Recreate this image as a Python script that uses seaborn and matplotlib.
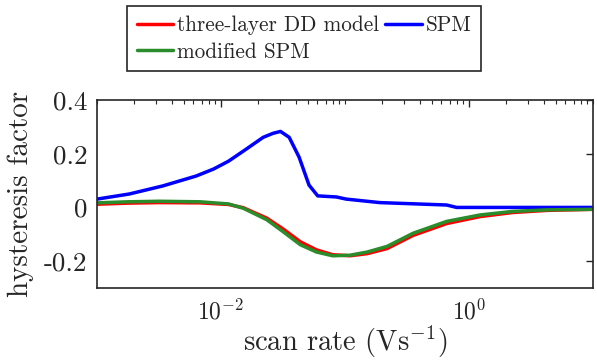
import numpy as np
import matplotlib
matplotlib.use("Agg")
import matplotlib.pyplot as plt
import matplotlib.ticker as mticker
import seaborn as sns
import pandas as pd

# scan rate as log10(V/s), hysteresis factor
spm_logx = [-3.0, -2.74, -2.47, -2.20, -2.06, -1.94, -1.80, -1.66, -1.58, -1.52,
            -1.45, -1.37, -1.29, -1.22, -1.07, -0.99, -0.72, -0.18, -0.10, 0.3, 0.7, 1.0]
spm_hf = [0.031, 0.050, 0.080, 0.117, 0.143, 0.172, 0.216, 0.261, 0.276, 0.283,
          0.261, 0.187, 0.083, 0.043, 0.039, 0.031, 0.018, 0.009, 0.0, 0.0, 0.0, 0.0]

dd_logx = [-3.0, -2.75, -2.5, -2.17, -1.94, -1.82, -1.63, -1.50, -1.36, -1.23,
           -1.10, -0.96, -0.82, -0.66, -0.45, -0.18, 0.09, 0.35, 0.63, 1.0]
dd_hf = [0.012, 0.016, 0.018, 0.017, 0.011, -0.001, -0.04, -0.08, -0.128, -0.158,
         -0.176, -0.18, -0.172, -0.153, -0.104, -0.06, -0.034, -0.019, -0.011, -0.007]

mod_logx = [-3.0, -2.75, -2.5, -2.17, -1.94, -1.82, -1.63, -1.50, -1.36, -1.23,
            -1.10, -0.96, -0.82, -0.66, -0.45, -0.18, 0.09, 0.35, 0.63, 1.0]
mod_hf = [0.017, 0.021, 0.023, 0.021, 0.013, -0.003, -0.046, -0.09, -0.139, -0.166,
          -0.18, -0.178, -0.166, -0.145, -0.096, -0.052, -0.028, -0.015, -0.009, -0.007]

sns.set_theme(style="white")
plt.rcParams['font.family'] = 'serif'
plt.rcParams['font.serif'] = ['cmr10']
plt.rcParams['mathtext.fontset'] = 'cm'
plt.rcParams['axes.formatter.use_mathtext'] = True

df = pd.concat([
    pd.DataFrame({'rate': 10 ** np.array(dd_logx), 'hf': dd_hf, 'model': 'three-layer DD model'}),
    pd.DataFrame({'rate': 10 ** np.array(spm_logx), 'hf': spm_hf, 'model': 'SPM'}),
    pd.DataFrame({'rate': 10 ** np.array(mod_logx), 'hf': mod_hf, 'model': 'modified SPM'}),
])
colors = {'three-layer DD model': '#ff0000', 'SPM': '#0000ff', 'modified SPM': '#2a8c2a'}

fig = plt.figure(figsize=(5.97, 3.62), dpi=100)
ax = fig.add_axes([97/597, 1 - 288/362, 496/597, 188/362])

for name in ['three-layer DD model', 'SPM', 'modified SPM']:
    sub = df[df.model == name]
    sns.lineplot(data=sub, x='rate', y='hf', color=colors[name], lw=2.5,
                 label=name, ax=ax, legend=False)

ax.set_xscale('log')
ax.set_xlim(1e-3, 10)
ax.set_ylim(-0.3, 0.4)
ax.xaxis.set_major_locator(mticker.FixedLocator([1e-2, 1e0]))
ax.xaxis.set_major_formatter(mticker.FixedFormatter([r'$10^{-2}$', r'$10^{0}$']))
minor = [m * 10.0 ** e for e in range(-3, 1) for m in range(1, 10)] + [10.0]
ax.xaxis.set_minor_locator(mticker.FixedLocator(minor))
ax.xaxis.set_minor_formatter(mticker.NullFormatter())
ax.set_yticks([-0.2, 0, 0.2, 0.4])
ax.set_yticklabels(['-0.2', '0', '0.2', '0.4'])

ax.tick_params(which='both', direction='in', top=True, right=True, colors='#262626',
               labelcolor='#262626')
ax.tick_params(axis='y', labelsize=19.5, pad=7)
ax.tick_params(axis='x', labelsize=17, pad=8)
ax.tick_params(which='major', length=5, width=1.0)
ax.tick_params(which='minor', length=3, width=0.8)
for s in ax.spines.values():
    s.set_color('#262626')
    s.set_linewidth(1.2)

ax.set_xlabel(r'scan rate (Vs$^{-1}$)', fontsize=20.5, color='#262626', labelpad=0)
ax.set_ylabel('hysteresis factor', fontsize=21, color='#262626', labelpad=7)

h, l = ax.get_legend_handles_labels()
order = [0, 2, 1]
leg = fig.legend([h[i] for i in order], [l[i] for i in order], loc='upper left',
                 bbox_to_anchor=(127/597, 1 - 6/362), ncol=2,
                 fontsize=15.3, frameon=True, fancybox=False, framealpha=1,
                 edgecolor='#262626', handlelength=1.7, handletextpad=0.2,
                 columnspacing=0.3, borderpad=0.45, labelspacing=0.33,
                 borderaxespad=0)
leg.get_frame().set_linewidth(1.2)

fig.savefig('out.png', dpi=100)
